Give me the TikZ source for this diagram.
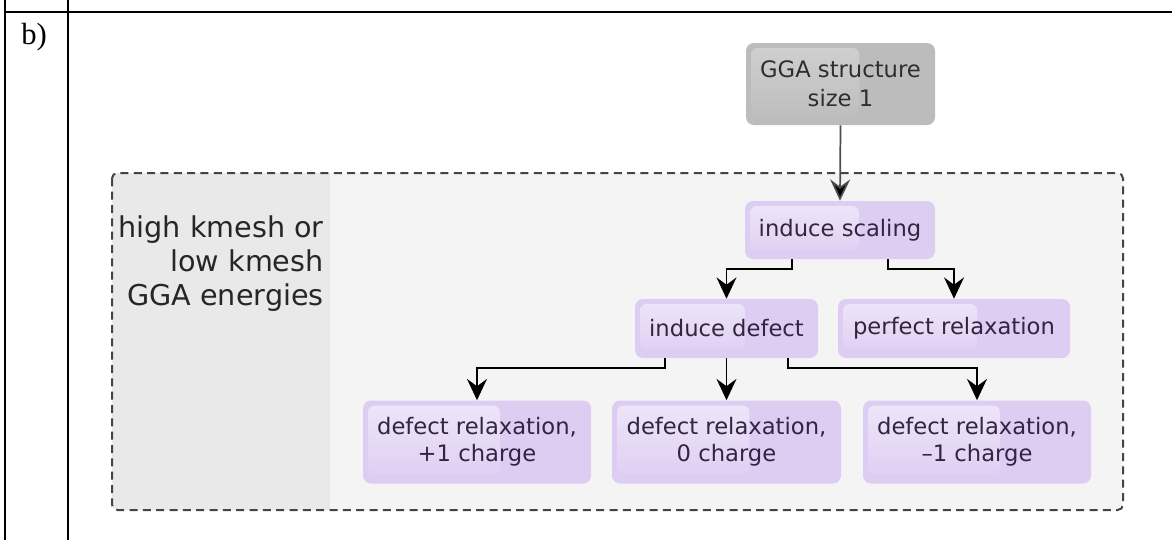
\documentclass[tikz,border=0pt]{standalone}
\usepackage{fontspec}
\setmainfont{Liberation Serif}
\newfontfamily\diagfont{DejaVu Sans}
\usetikzlibrary{arrows.meta,calc}

\definecolor{lav}{HTML}{DECDF3}
\definecolor{lavhi}{HTML}{EEE6F9}
\definecolor{lavtext}{HTML}{33243F}
\definecolor{ggafill}{HTML}{BCBCBC}
\definecolor{ggahi}{HTML}{D0D0D0}
\definecolor{ggatext}{HTML}{2E2E2E}
\definecolor{panelL}{HTML}{E9E9E9}
\definecolor{panelR}{HTML}{F4F4F4}
\definecolor{dashcol}{HTML}{444444}

\tikzset{
  x=0.75pt, y=-0.75pt,
  gloss/.style 2 args={path picture={
      \shade[top color=#1, bottom color=#2, rounded corners=5pt]
        ($(path picture bounding box.north west)+(5,5)$) rectangle
        ($(path picture bounding box.south west)!0.6!(path picture bounding box.south east)+(0,-9)$);
  }},
  stepbox/.style={rounded corners=6pt, fill=lav, text=lavtext, align=center,
    inner sep=0pt, font=\diagfont\fontsize{17}{20.5}\selectfont, gloss={lavhi}{lav}},
  ggabox/.style={rounded corners=6pt, fill=ggafill, text=ggatext, align=center,
    inner sep=0pt, font=\diagfont\fontsize{17}{22}\selectfont, gloss={ggahi}{ggafill}},
  arr/.style={line width=1.3pt, draw=black,
    -{Stealth[length=16pt, width=15pt, inset=5.5pt, fill=black]}},
  rule/.style={line width=1.6pt, black},
}

\begin{document}
\begin{tikzpicture}
\useasboundingbox (0,0) rectangle (1172,540);
\fill[white] (0,0) rectangle (1172,540);

% table rules
\draw[rule] (5,0) -- (5,540);
\draw[rule] (68,0) -- (68,540);
\draw[rule] (5,12) -- (82,12);
\draw[line width=1pt, black] (82,12) -- (1172,12);
\node[anchor=base west, inner sep=0pt, font=\fontsize{23}{26}\selectfont] (lbl) at (21,44) {b)};

% grouping panel
\fill[panelR, rounded corners=4pt] (112,173) rectangle (1123,510);
\begin{scope}
  \clip[rounded corners=4pt] (112,173) rectangle (1123,510);
  \fill[panelL] (112,173) rectangle (330,510);
\end{scope}
\draw[dashcol, line width=1.5pt, dash pattern=on 6pt off 4pt, rounded corners=4pt]
  (112,173) rectangle (1123,510);
\node[anchor=east, align=right, inner sep=0pt, text=black!85,
  font=\diagfont\fontsize{21.5}{25.5}\selectfont] (grp) at (324,264)
  {high kmesh or\\low kmesh\\GGA energies};

% steps
\node[ggabox, minimum width=141.75pt, minimum height=61.5pt] (gga) at (840.5,84)
  {GGA structure\\size 1};
\node[stepbox, minimum width=142.5pt, minimum height=43.5pt] (scaling) at (840,230)
  {induce scaling};
\node[stepbox, minimum width=137.25pt, minimum height=44.25pt] (defect) at (726.5,328.5)
  {induce defect};
\node[stepbox, minimum width=174pt, minimum height=44.25pt] (perfect) at (954,328.5)
  {perfect relaxation};
\node[stepbox, minimum width=171pt, minimum height=62.25pt] (rp) at (477,442)
  {defect relaxation,\\+1 charge};
\node[stepbox, minimum width=171.75pt, minimum height=62.25pt] (rz) at (726.5,442)
  {defect relaxation,\\0 charge};
\node[stepbox, minimum width=171pt, minimum height=62.25pt] (rm) at (977,442)
  {defect relaxation,\\–1 charge};

% connectors
\draw[arr, draw=black!70] (gga.south) -- (scaling.north);
\draw[arr] ($(scaling.south)+(-48,0)$) -- ++(0,10) -| (defect.north);
\draw[arr] ($(scaling.south)+(48,0)$) -- ++(0,10) -| (perfect.north);
\draw[arr] ($(defect.south)+(-61.5,0)$) -- ++(0,10) -| (rp.north);
\draw[arr] (defect.south) -- (rz.north);
\draw[arr] ($(defect.south)+(61.5,0)$) -- ++(0,10) -| (rm.north);
\end{tikzpicture}
\end{document}
